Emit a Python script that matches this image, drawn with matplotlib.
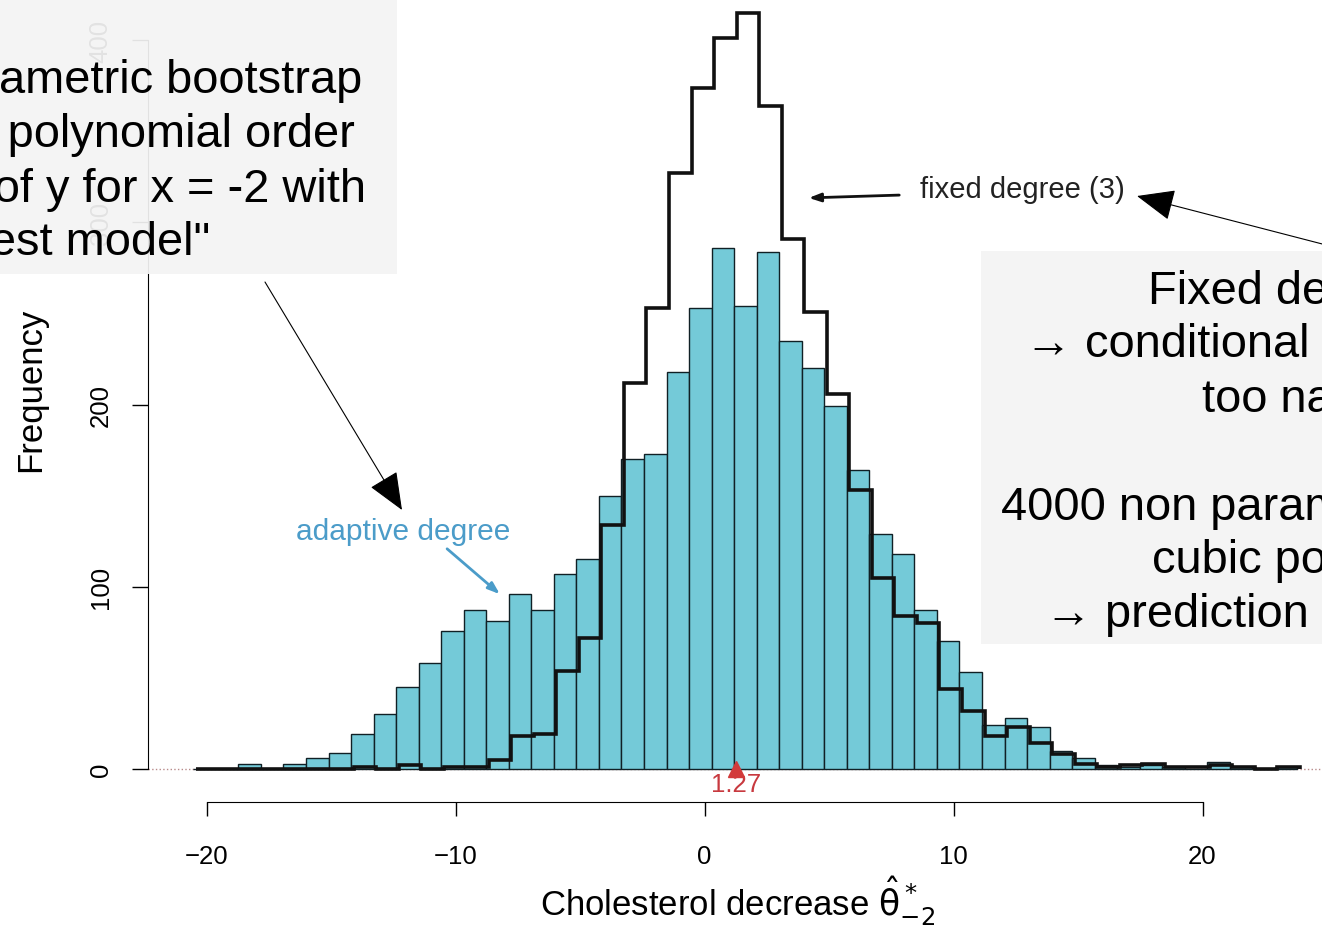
import matplotlib.pyplot as plt
import numpy as np

plt.rcParams['font.family'] = ['Liberation Sans', 'DejaVu Sans']

# histogram bins (cholesterol decrease, 4000 bootstrap replications)
bin_start = -20.53
bin_width = 0.905
adaptive = [0, 0, 3, 0, 3, 6, 9, 19, 30, 45,
            58, 76, 87, 81, 96, 87, 107, 115, 150, 170,
            173, 218, 253, 286, 254, 284, 235, 220, 199, 164,
            129, 118, 87, 70, 53, 24, 28, 23, 10, 6,
            2, 1, 2, 1, 0, 4, 1, 0, 1]
fixed = [0, 0, 0, 0, 0, 0, 0, 1, 0, 2,
         0, 1, 1, 5, 18, 19, 54, 72, 134, 212,
         253, 327, 374, 401, 415, 364, 291, 251, 206, 153,
         105, 84, 80, 44, 32, 18, 23, 14, 8, 3,
         1, 2, 3, 1, 1, 2, 1, 0, 1]
theta_hat = 1.27
xticks = [-20, -10, 0, 10, 20]
yticks = [0, 100, 200, 300, 400]

edges = bin_start + bin_width * np.arange(len(adaptive) + 1)

# pixel layout of the original figure
W, H = 1322, 928
x0_px, px_per_x = 704.5, 24.9
y0_px, px_per_y = 770, 1.822

fig = plt.figure(figsize=(W / 100, H / 100), dpi=100)
ax = fig.add_axes([0, 0, 1, 1])
ax.set_xlim(-x0_px / px_per_x, (W - x0_px) / px_per_x)
ax.set_ylim((y0_px - H) / px_per_y, y0_px / px_per_y)

ax.bar(edges[:-1], adaptive, width=bin_width, align='edge',
       color='#74cad8', edgecolor='#102025', linewidth=1.0, zorder=2)
ax.stairs(fixed, edges + 0.1, color='#111111', linewidth=2.6, baseline=0, zorder=3)
ax.axhline(0, xmin=148 / W, color='#b88a8a', linestyle=':', linewidth=1.0, zorder=1)
ax.plot([theta_hat], [0], marker='^', color='#d23a3a', markersize=11, zorder=4,
        clip_on=False)
ax.text(theta_hat, -8.5, '1.27', color='#c8393f', fontsize=18.5,
        ha='center', va='center')

# R-style detached axes
for s in ['top', 'right']:
    ax.spines[s].set_visible(False)
ax.spines['left'].set_position(('data', (148 - x0_px) / px_per_x))
ax.spines['left'].set_bounds(0, 400)
ax.spines['bottom'].set_position(('data', (y0_px - 803) / px_per_y))
ax.spines['bottom'].set_bounds(-20, 20)
ax.set_xticks(xticks)
ax.set_yticks(yticks)
ax.tick_params(axis='x', direction='out', length=10, width=1, labelsize=18.5, pad=20)
ax.tick_params(axis='y', direction='out', length=11.5, width=1, labelsize=18.5,
               pad=14, labelrotation=90)
for t in ax.get_yticklabels():
    t.set_va('center')
ax.patch.set_alpha(0)

ax.set_xlabel(r'Cholesterol decrease $\hat{\mathrm{\theta}}^*_{-2}$', fontsize=25)
ax.xaxis.set_label_coords(738 / W, 1 - 874 / H)
ax.set_ylabel('Frequency', fontsize=25)
ax.yaxis.set_label_coords(47 / W, 1 - 390 / H)

ax.text((920 - x0_px) / px_per_x, (y0_px - 190) / px_per_y, 'fixed degree (3)',
        fontsize=21, ha='left', va='center', color='#222222')
ax.annotate('', xy=((806 - x0_px) / px_per_x, (y0_px - 199) / px_per_y),
            xytext=((902 - x0_px) / px_per_x, (y0_px - 196) / px_per_y),
            arrowprops=dict(arrowstyle='-|>,head_length=0.7,head_width=0.25',
                            color='#111111', lw=2))
ax.text((403 - x0_px) / px_per_x, (y0_px - 532) / px_per_y, 'adaptive degree',
        fontsize=21.5, ha='center', va='center', color='#4b9cc9')
ax.annotate('', xy=((502 - x0_px) / px_per_x, (y0_px - 597) / px_per_y),
            xytext=((445 - x0_px) / px_per_x, (y0_px - 548) / px_per_y),
            arrowprops=dict(arrowstyle='-|>,head_length=0.7,head_width=0.25',
                            color='#4b9cc9', lw=2))

# slide overlay (pixel coordinates)
ov = fig.add_axes([0, 0, 1, 1])
ov.set_xlim(0, W)
ov.set_ylim(H, 0)
ov.axis('off')
ov.patch.set_alpha(0)
box = '#f4f4f4'
ov.add_patch(plt.Rectangle((0, 0), 397, 275, color=box, alpha=0.93, lw=0))
ov.add_patch(plt.Rectangle((981, 252), 345, 393, color=box, alpha=0.93, lw=0))

fs = 33.8
left_lines = [('parametric bootstrap', 362, 93), ('with polynomial order', 355, 147),
              ('prediction of y for x = -2 with', 366, 202), ('"best model"', 210, 255)]
for txt, xr, yb in left_lines:
    ov.text(xr, yb, txt, fontsize=fs, ha='right', va='baseline', color='black')

right_lines = [('Fixed degree', 1148, 304), ('→ conditional intervals', 1025, 357),
               ('too narrow', 1202, 412), ('4000 non parametric bootstrap', 1001, 520),
               ('cubic polynomial', 1152, 573), ('→ prediction intervals', 1045, 627)]
for txt, xl, yb in right_lines:
    ov.text(xl, yb, txt, fontsize=fs, ha='left', va='baseline', color='black')

big_head = dict(arrowstyle='-|>,head_length=1.2,head_width=0.5', color='black',
                lw=0.8, mutation_scale=20, shrinkA=0, shrinkB=0)
ov.annotate('', xy=(402, 511), xytext=(265, 283), arrowprops=big_head)
ov.annotate('', xy=(1137, 197), xytext=(1330, 247), arrowprops=big_head)

fig.savefig('out.png', dpi=100)
